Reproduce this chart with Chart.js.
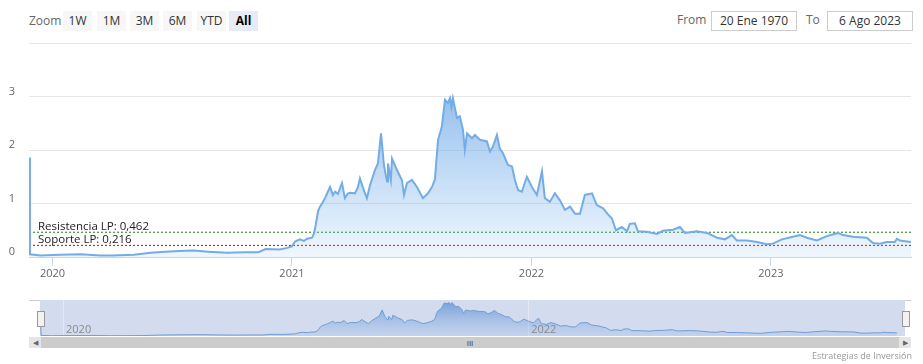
<!DOCTYPE html>
<html>

<head>
    <meta charset="utf-8">
    <title>Cotización</title>
    <script src="https://cdn.jsdelivr.net/npm/chart.js"></script>
    <style>
        body {
            margin: 0;
            width: 923px;
            height: 364px;
            position: relative;
            overflow: hidden;
            background: #fff;
            font-family: "Open Sans", sans-serif;
        }

        .txt {
            position: absolute;
            font-size: 12px;
            color: #666;
            line-height: 20px;
        }

        .btn {
            position: absolute;
            top: 11px;
            width: 29px;
            height: 20px;
            line-height: 20px;
            text-align: center;
            font-size: 12px;
            color: #333;
            background: #f7f7f7;
        }

        .caja {
            position: absolute;
            top: 11px;
            width: 84px;
            height: 18px;
            line-height: 18px;
            border: 1px solid #ccc;
            text-align: center;
            font-size: 12px;
            color: #333;
        }

        .asa {
            position: absolute;
            top: 311px;
            width: 6px;
            height: 14px;
            background: #f2f2f2;
            border: 1px solid #999;
        }
    </style>
</head>

<body>
    <div class="txt" style="left:29px; top:11px">Zoom</div>
    <div class="btn" style="left:63px">1W</div>
    <div class="btn" style="left:97px">1M</div>
    <div class="btn" style="left:130px">3M</div>
    <div class="btn" style="left:163px">6M</div>
    <div class="btn" style="left:197px">YTD</div>
    <div class="btn" style="left:229px; background:#e6ebf5; color:#000; font-weight:bold">All</div>

    <div class="txt" style="left:677px; top:10px">From</div>
    <div class="caja" style="left:711px">20 Ene 1970</div>
    <div class="txt" style="left:806px; top:10px">To</div>
    <div class="caja" style="left:827px">6 Ago 2023</div>

    <div style="position:absolute; left:0; top:0">
        <canvas id="principal" width="923" height="290"></canvas>
    </div>

    <div style="position:absolute; left:29px; top:300px; width:882px; height:1px; background:#ccc"></div>
    <div style="position:absolute; left:0; top:298px">
        <canvas id="navegador" width="923" height="40"></canvas>
    </div>
    <div class="asa" style="left:37px"></div>
    <div class="asa" style="left:902px"></div>

    <!-- scrollbar -->
    <div style="position:absolute; left:29px; top:337px; width:882px; height:11px; background:#f2f2f2"></div>
    <div style="position:absolute; left:41px; top:337px; width:858px; height:11px; background:#ccc; font-size:8px; line-height:11px; text-align:center; color:#333">III</div>
    <div style="position:absolute; left:29px; top:337px; width:12px; height:11px; background:#e6e6e6; font-size:7px; line-height:11px; text-align:center; color:#666">&#9664;</div>
    <div style="position:absolute; left:899px; top:337px; width:12px; height:11px; background:#e6e6e6; font-size:7px; line-height:11px; text-align:center; color:#666">&#9654;</div>

    <div style="position:absolute; right:11px; top:349px; font-size:9px; color:#999">Estrategias de Inversión</div>

    <script>
        // fechas en años decimales, precio de cierre
        const fechas = [
            2019.902, 2019.906, 2019.95, 2020.03, 2020.12, 2020.2, 2020.25, 2020.34, 2020.41, 2020.47,
            2020.53, 2020.59, 2020.65, 2020.73, 2020.80, 2020.86, 2020.89, 2020.95, 2020.98, 2021.00,
            2021.013, 2021.033, 2021.05, 2021.063, 2021.084, 2021.093, 2021.10, 2021.109, 2021.117, 2021.128,
            2021.138, 2021.15, 2021.159, 2021.171, 2021.18, 2021.192, 2021.209, 2021.221, 2021.232, 2021.242,
            2021.263, 2021.275, 2021.284, 2021.30, 2021.313, 2021.326, 2021.347, 2021.359, 2021.372, 2021.384,
            2021.397, 2021.401, 2021.413, 2021.418, 2021.438, 2021.459, 2021.468, 2021.480, 2021.501, 2021.522,
            2021.547, 2021.568, 2021.585, 2021.597, 2021.610, 2021.626, 2021.639, 2021.651, 2021.660, 2021.666,
            2021.672, 2021.689, 2021.701, 2021.714, 2021.722, 2021.731, 2021.752, 2021.764, 2021.785, 2021.814,
            2021.827, 2021.839, 2021.856, 2021.868, 2021.881, 2021.902, 2021.919, 2021.931, 2021.944, 2021.960,
            2021.981, 2022.002, 2022.023, 2022.044, 2022.056, 2022.077, 2022.098, 2022.119, 2022.140, 2022.161,
            2022.182, 2022.203, 2022.223, 2022.253, 2022.273, 2022.299, 2022.319, 2022.336, 2022.353, 2022.378,
            2022.399, 2022.411, 2022.432, 2022.445, 2022.482, 2022.524, 2022.549, 2022.591, 2022.620, 2022.641,
            2022.691, 2022.733, 2022.775, 2022.808, 2022.837, 2022.858, 2022.900, 2022.942, 2022.983, 2023.008,
            2023.046, 2023.092, 2023.121, 2023.150, 2023.192, 2023.234, 2023.280, 2023.301, 2023.342, 2023.401,
            2023.426, 2023.455, 2023.484, 2023.518, 2023.526, 2023.539, 2023.585
        ];
        const precios = [
            1.86, 0.05, 0.03, 0.04, 0.05, 0.03, 0.03, 0.04, 0.08, 0.10,
            0.11, 0.12, 0.10, 0.08, 0.09, 0.09, 0.15, 0.14, 0.17, 0.20,
            0.29, 0.33, 0.30, 0.34, 0.36, 0.45, 0.62, 0.86, 0.94, 1.02,
            1.10, 1.22, 1.31, 1.16, 1.22, 1.18, 1.38, 1.10, 1.18, 1.20,
            1.19, 1.30, 1.47, 1.25, 1.10, 1.34, 1.63, 1.75, 2.31, 1.72,
            1.41, 1.75, 1.44, 1.84, 1.63, 1.44, 1.16, 1.38, 1.44, 1.31,
            1.10, 1.19, 1.31, 1.45, 2.19, 2.44, 2.94, 2.88, 2.97, 2.80,
            2.97, 2.60, 2.63, 2.38, 2.00, 2.31, 2.22, 2.28, 2.19, 2.16,
            1.97, 2.06, 2.28, 2.03, 1.94, 1.72, 1.69, 1.44, 1.25, 1.22,
            1.50, 1.31, 1.16, 1.60, 1.10, 1.03, 1.19, 1.06, 0.88, 0.94,
            0.81, 0.81, 1.16, 1.19, 0.97, 0.91, 0.80, 0.72, 0.50, 0.56,
            0.48, 0.62, 0.63, 0.48, 0.47, 0.43, 0.49, 0.51, 0.56, 0.45,
            0.48, 0.45, 0.36, 0.33, 0.41, 0.31, 0.31, 0.28, 0.24, 0.25,
            0.33, 0.38, 0.41, 0.36, 0.31, 0.39, 0.45, 0.41, 0.38, 0.36,
            0.26, 0.25, 0.28, 0.28, 0.34, 0.31, 0.28
        ];
        const aniosEje = [2020, 2021, 2022, 2023];
        const aniosNavegador = [2020, 2022];
        const marcasY = [0, 1, 2, 3, 4];
        const resistencia = 0.462;
        const soporte = 0.216;
        const inicio = 2019.902;
        const fin = 2023.585;

        const puntos = fechas.map((f, i) => ({ x: f, y: precios[i] }));
        const fuente = { family: "Open Sans", size: 11 };

        function degradado(context, arriba, abajo) {
            const area = context.chart.chartArea;
            if (!area) return null;
            const g = context.chart.ctx.createLinearGradient(0, area.top, 0, area.bottom);
            g.addColorStop(0, arriba);
            g.addColorStop(1, abajo);
            return g;
        }

        const etiquetasNiveles = {
            id: 'etiquetasNiveles',
            afterDatasetsDraw(chart) {
                const c = chart.ctx;
                const y = chart.scales.y;
                const x0 = chart.chartArea.left + 9;
                c.save();
                c.font = '11.5px "Open Sans"';
                c.fillStyle = '#222';
                c.textBaseline = 'alphabetic';
                c.fillText('Resistencia LP: ' + resistencia.toString().replace('.', ','), x0, y.getPixelForValue(resistencia) - 2.5);
                c.fillText('Soporte LP: ' + soporte.toString().replace('.', ','), x0, y.getPixelForValue(soporte) - 2.5);
                c.restore();
            }
        };

        new Chart(document.getElementById('principal'), {
            type: 'line',
            data: {
                datasets: [
                    {
                        data: puntos,
                        borderColor: '#74ade5',
                        borderWidth: 2,
                        pointRadius: 0,
                        tension: 0,
                        fill: 'origin',
                        backgroundColor: ctx => degradado(ctx, 'rgba(100,160,230,0.9)', 'rgba(124,181,236,0.12)')
                    },
                    {
                        data: [{ x: inicio, y: resistencia }, { x: fin, y: resistencia }],
                        borderColor: '#3d9b35',
                        borderWidth: 1.2,
                        borderDash: [2, 2],
                        pointRadius: 0,
                        fill: false
                    },
                    {
                        data: [{ x: inicio, y: soporte }, { x: fin, y: soporte }],
                        borderColor: '#e02020',
                        borderWidth: 1.2,
                        borderDash: [2, 2],
                        pointRadius: 0,
                        fill: false
                    }
                ]
            },
            options: {
                responsive: false,
                animation: false,
                layout: { padding: { top: 43, right: 12, left: 0, bottom: 0 } },
                plugins: { legend: { display: false }, tooltip: { enabled: false } },
                scales: {
                    x: {
                        type: 'linear',
                        min: inicio,
                        max: fin,
                        afterBuildTicks: axis => { axis.ticks = aniosEje.map(v => ({ value: v })); },
                        afterFit: axis => { axis.height = 33; },
                        grid: { drawOnChartArea: false, color: '#ccd6eb', tickLength: 9 },
                        border: { color: '#ccd6eb' },
                        ticks: { color: '#666', font: fuente, maxRotation: 0, autoSkip: false, padding: 1, callback: v => String(v) }
                    },
                    y: {
                        min: 0,
                        max: 4,
                        afterBuildTicks: axis => { axis.ticks = marcasY.map(v => ({ value: v })); },
                        afterFit: axis => { axis.width = 29; },
                        grid: { color: '#e6e6e6', drawTicks: false },
                        border: { display: false },
                        ticks: { color: '#666', font: fuente, padding: 14, labelOffset: -5, callback: v => v === 4 ? '' : String(v) }
                    }
                }
            },
            plugins: [etiquetasNiveles]
        });

        const fondoNavegador = {
            id: 'fondoNavegador',
            beforeDatasetsDraw(chart) {
                const c = chart.ctx;
                const a = chart.chartArea;
                const x = chart.scales.x;
                c.save();
                c.fillStyle = '#d3dbee';
                c.fillRect(a.left, a.top, a.right - a.left, a.bottom - a.top);
                c.strokeStyle = '#e4e8f2';
                c.lineWidth = 1;
                aniosNavegador.forEach(v => {
                    const px = Math.round(x.getPixelForValue(v)) + 0.5;
                    c.beginPath();
                    c.moveTo(px, a.top);
                    c.lineTo(px, a.bottom);
                    c.stroke();
                });
                c.restore();
            },
            afterDatasetsDraw(chart) {
                const c = chart.ctx;
                const a = chart.chartArea;
                const x = chart.scales.x;
                c.save();
                c.font = '11px "Open Sans"';
                c.fillStyle = '#8a8a8a';
                aniosNavegador.forEach(v => {
                    c.fillText(String(v), x.getPixelForValue(v) + 3, a.bottom - 3);
                });
                c.restore();
            }
        };

        new Chart(document.getElementById('navegador'), {
            type: 'line',
            data: {
                datasets: [{
                    data: puntos,
                    borderColor: '#6f9fd6',
                    borderWidth: 1,
                    pointRadius: 0,
                    tension: 0,
                    fill: 'origin',
                    backgroundColor: ctx => degradado(ctx, 'rgba(80,135,210,0.75)', 'rgba(150,185,230,0.25)')
                }]
            },
            options: {
                responsive: false,
                animation: false,
                layout: { padding: { top: 2, right: 18, left: 40, bottom: 2 } },
                plugins: { legend: { display: false }, tooltip: { enabled: false } },
                scales: {
                    x: { type: 'linear', display: false, min: 2019.901, max: 2023.62 },
                    y: { display: false, min: 0, max: 3.2 }
                }
            },
            plugins: [fondoNavegador]
        });
    </script>
</body>

</html>
